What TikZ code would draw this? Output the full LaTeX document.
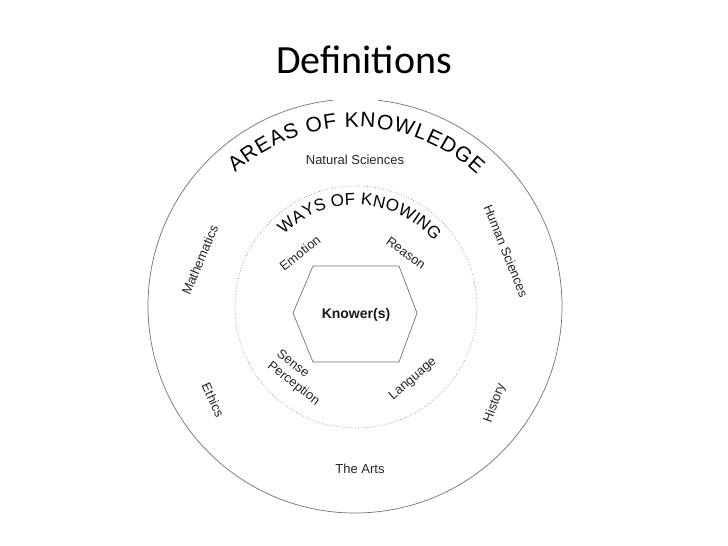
\documentclass[tikz,border=0pt]{standalone}
\usepackage{fontspec}
\setmainfont{Liberation Sans}
\newfontfamily\titlefont{Carlito}
\usetikzlibrary{decorations.text}
\newcommand\aokfont{\fontsize{21}{21}\selectfont}
\newcommand\wokfont{\fontsize{17}{17}\selectfont}
\tikzset{
  ring/.style={draw=black!55, line width=0.7pt},
  dotring/.style={draw=black!45, dotted, line width=0.7pt},
  hexline/.style={draw=black!55, line width=0.7pt},
  lab/.style={font=\fontsize{13}{15}\selectfont, text=black!85, inner sep=1pt},
}
\begin{document}
\begin{tikzpicture}[x=1pt,y=1pt]
\useasboundingbox (0,0) rectangle (728,-546);
\fill[white] (0,0) rectangle (728,-546);
\coordinate (C) at (355,-306);
\coordinate (Ci) at (356,-307);
% title
\node[font=\titlefont\fontsize{40}{48}\selectfont, anchor=base, inner sep=0pt] (title) at (364,-73) {Definitions};
% outer circle (with small gap at the top)
\draw[ring] ([shift={(96:207)}]C) arc[start angle=96, end angle=443.6, radius=207];
% inner dotted circle
\draw[dotring] (Ci) circle[radius=121];
% hexagon
\draw[hexline] (313,-266) -- (399,-266) -- (417,-313) -- (399,-362) -- (313,-362) -- (293,-313) -- cycle;
% curved titles
{\aokfont
\path[decorate, decoration={text along path, text={|\aokfont|AREAS OF KNOWLEDGE}, text align=fit to path}]
  ([shift={(132:179)}]C) arc[start angle=132, end angle=47, radius=179];
}
{\wokfont
\path[decorate, decoration={text along path, text={|\wokfont|WAYS OF KNOWING}, text align=fit to path}]
  ([shift={(135:102)}]Ci) arc[start angle=135, end angle=40, radius=102];
}
% areas of knowledge
\node[lab] (ns) at (355,-160) {Natural Sciences};
\node[lab] (arts) at (360,-469) {The Arts};
\node[lab, rotate=67] (math) at (200,-260) {Mathematics};
\node[lab, rotate=-68] (hs) at (506,-251) {Human Sciences};
\node[lab, rotate=-65] (eth) at (213,-400) {Ethics};
\node[lab, rotate=70] (hist) at (495,-403) {History};
% ways of knowing
\node[lab, rotate=38] (emo) at (300,-253) {Emotion};
\node[lab, rotate=-36] (rea) at (406,-253) {Reason};
\node[lab, rotate=-38, align=left] (sp) at (298,-378) {Sense\\Perception};
\node[lab, rotate=41] (lang) at (413,-379) {Language};
% knower
\node[font=\bfseries\fontsize{14}{16}\selectfont, text=black!90] (kn) at (356,-315) {Knower(s)};
\end{tikzpicture}
\end{document}
